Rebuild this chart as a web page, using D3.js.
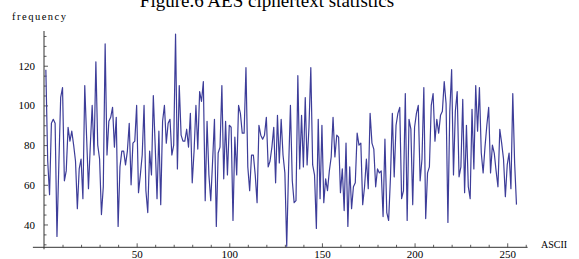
<!DOCTYPE html>
<html>
<head>
<meta charset="utf-8">
<script src="https://cdn.jsdelivr.net/npm/d3@7"></script>
<style>
  html, body { margin: 0; padding: 0; background: #fff; }
  svg { display: block; }
  text { font-family: "Liberation Serif", "Times New Roman", serif; fill: #000; }
</style>
</head>
<body>
<svg id="chart" width="579" height="259"></svg>
<script>
// ---- data ----
const title = "Figure.6 AES ciphertext statistics";
const yLabel = "frequency";
const xLabel = "ASCII";
const xTickValues = [50, 100, 150, 200, 250];
const yTickValues = [40, 60, 80, 100, 120];
const frequencies = [
  118, 72, 55, 91, 93, 91, 34, 70, 104, 109,
  62, 67, 89, 82, 87, 80, 72, 48, 68, 73,
  53, 110, 84, 58, 80, 100, 75, 122, 80, 73,
  45, 59, 131, 75, 92, 94, 99, 79, 94, 39,
  69, 77, 77, 70, 77, 91, 60, 81, 82, 100,
  56, 65, 75, 100, 57, 46, 77, 65, 105, 80,
  53, 87, 50, 92, 100, 81, 91, 93, 75, 80,
  136, 68, 110, 85, 82, 82, 88, 79, 96, 61,
  77, 100, 78, 107, 102, 112, 52, 92, 65, 52,
  72, 93, 39, 76, 79, 110, 63, 92, 65, 90,
  89, 42, 84, 65, 100, 96, 86, 86, 119, 69,
  57, 75, 75, 65, 51, 90, 85, 83, 85, 94,
  69, 72, 79, 89, 61, 95, 71, 93, 75, 66,
  29, 68, 100, 62, 51, 52, 115, 68, 95, 69,
  104, 70, 89, 119, 70, 65, 38, 93, 53, 90,
  51, 63, 57, 67, 74, 94, 74, 85, 84, 56,
  68, 47, 81, 39, 69, 48, 59, 61, 86, 80,
  81, 50, 59, 73, 58, 96, 81, 78, 59, 68,
  66, 67, 44, 83, 46, 42, 64, 96, 64, 90,
  96, 99, 53, 57, 106, 42, 93, 88, 50, 89,
  96, 100, 62, 73, 109, 43, 66, 69, 100, 106,
  82, 93, 86, 95, 97, 112, 101, 41, 97, 118,
  65, 97, 107, 64, 69, 103, 56, 90, 59, 53,
  98, 68, 110, 87, 109, 76, 66, 79, 90, 99,
  66, 80, 76, 67, 59, 88, 81, 73, 54, 70,
  76, 58, 106, 71, 50
];
const points = frequencies.map((v, i) => [i + 1, v]);

// ---- scales ----
const svg = d3.select("#chart");
const x = d3.scaleLinear().domain([0, 261]).range([44, 527.6]);
const y = d3.scaleLinear().domain([28.5, 137.5]).range([247.3, 31]);

const axisColor = "#333";

// minor ticks
const xMinor = d3.range(10, 261, 10).filter(v => v % 50 !== 0);
const yMinor = d3.range(30, 138, 5).filter(v => v % 20 !== 0);

const gx = svg.append("g").attr("transform", `translate(0,${y(28.5)})`);
gx.call(d3.axisBottom(x).tickValues(xTickValues).tickSize(-4).tickPadding(3).tickFormat(d3.format("d")));
gx.append("g").call(d3.axisBottom(x).tickValues(xMinor).tickSize(-2.5).tickFormat(""));
gx.selectAll(".domain").remove();
gx.selectAll("line").attr("stroke", axisColor).attr("stroke-width", 0.8);
gx.selectAll("text").attr("font-size", 11).attr("font-family", "Liberation Serif").attr("fill", "#000");

const gy = svg.append("g").attr("transform", `translate(${x(0)},0)`);
gy.call(d3.axisLeft(y).tickValues(yTickValues).tickSize(-4).tickPadding(9).tickFormat(d3.format("d")));
gy.append("g").call(d3.axisLeft(y).tickValues(yMinor).tickSize(-2.5).tickFormat(""));
gy.selectAll(".domain").remove();
gy.selectAll("line").attr("stroke", axisColor).attr("stroke-width", 0.8);
gy.selectAll("text").attr("font-size", 11).attr("font-family", "Liberation Serif").attr("fill", "#000");

// axis lines
svg.append("line")
  .attr("x1", x(-6)).attr("x2", x(261)).attr("y1", y(28.5)).attr("y2", y(28.5))
  .attr("stroke", axisColor).attr("stroke-width", 1);
svg.append("line")
  .attr("x1", x(0)).attr("x2", x(0)).attr("y1", y(137.5)).attr("y2", y(27.5))
  .attr("stroke", axisColor).attr("stroke-width", 1);

// data line
svg.append("path")
  .datum(points)
  .attr("fill", "none")
  .attr("stroke", "#3d3d99")
  .attr("stroke-width", 1.2)
  .attr("stroke-linejoin", "round")
  .attr("d", d3.line().x(d => x(d[0])).y(d => y(d[1])));

// labels
svg.append("text").attr("x", 267).attr("y", 6.5).attr("text-anchor", "middle")
  .attr("font-size", 19).text(title);
svg.append("text").attr("x", 12).attr("y", 20).attr("font-size", 10.5)
  .attr("textLength", 54).attr("lengthAdjust", "spacing").text(yLabel);
svg.append("text").attr("x", 541).attr("y", 248).attr("font-size", 10).text(xLabel);
</script>
</body>
</html>
